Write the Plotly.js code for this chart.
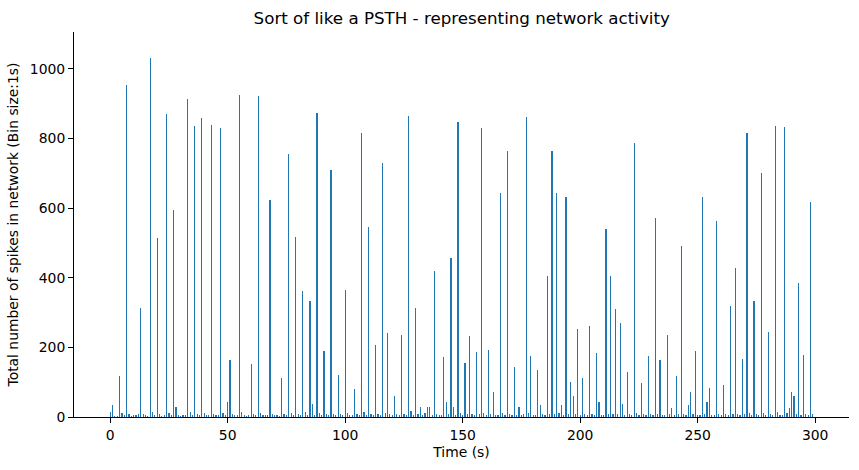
<!DOCTYPE html>
<html>
<head>
<meta charset="utf-8">
<script src="https://cdn.plot.ly/plotly-3.0.1.min.js"></script>
<style>html,body{margin:0;padding:0;background:#fff;}#chart{width:859px;height:470px;}</style>
</head>
<body>
<div id="chart"></div>
<script>
// Time bins (1 s each), 0..299
var timeBins = [];
for (var i = 0; i < 300; i++) { timeBins.push(i); }

// Total spike counts per bin
var spikeCounts = [
  15,34,4,3,118,12,5,954,8,4,
  5,6,8,314,10,6,4,1032,14,5,
  513,10,4,6,870,12,5,594,30,6,
  4,5,7,913,14,6,836,9,5,859,
  12,5,6,839,10,7,5,830,12,6,
  43,164,8,5,6,925,14,6,4,5,
  153,8,5,922,12,6,5,7,622,10,
  5,6,4,112,8,5,755,12,6,516,
  10,5,363,14,6,334,38,7,873,12,
  6,190,9,5,709,10,6,121,8,5,
  366,12,6,5,81,8,6,815,14,5,
  545,10,6,207,8,5,729,12,242,8,
  5,60,10,6,236,8,5,864,16,6,
  314,9,28,6,12,28,30,6,418,10,
  5,6,173,43,8,458,30,6,847,12,
  6,156,8,233,10,5,187,9,830,12,
  6,193,8,72,6,5,643,12,6,764,
  10,6,144,5,28,6,8,862,12,176,
  6,5,135,35,8,6,406,10,764,8,
  643,12,35,6,631,10,101,60,8,254,
  6,112,8,5,262,10,6,184,43,7,
  5,539,8,406,10,311,9,271,38,6,
  130,8,5,787,12,6,98,8,6,176,
  10,5,571,8,164,6,5,236,10,27,
  6,118,8,490,10,6,35,72,8,190,
  6,5,631,10,43,84,6,5,562,10,
  6,92,8,5,320,10,429,8,5,167,
  9,815,12,6,334,10,5,700,12,6,
  245,8,5,836,14,6,5,833,12,27,
  72,60,8,386,6,179,8,5,617,10
];

var xTickVals = [0, 50, 100, 150, 200, 250, 300];
var yTickVals = [0, 200, 400, 600, 800, 1000];

var trace = {
  type: 'bar',
  x: timeBins,
  y: spikeCounts,
  width: 0.5,
  marker: { color: '#1f77b4', line: { width: 0 } },
  hoverinfo: 'x+y'
};

var font = { family: 'DejaVu Sans, sans-serif', size: 13.9, color: '#000' };

var layout = {
  width: 859,
  height: 470,
  margin: { l: 74, r: 10, t: 32, b: 53, pad: 0 },
  paper_bgcolor: '#fff',
  plot_bgcolor: '#fff',
  showlegend: false,
  font: font,
  title: {
    text: 'Sort of like a PSTH - representing network activity',
    font: { family: 'DejaVu Sans, sans-serif', size: 16.7, color: '#000' },
    x: 0.5375, xanchor: 'center',
    y: 0.962, yanchor: 'middle'
  },
  xaxis: {
    range: [-15.4, 314.4],
    tickvals: xTickVals,
    ticktext: xTickVals.map(String),
    ticks: 'outside', ticklen: 5, tickwidth: 1, tickcolor: '#000',
    showline: true, linecolor: '#000', linewidth: 1,
    showgrid: false, zeroline: false,
    tickfont: font,
    title: { text: 'Time (s)', font: font, standoff: 5 }
  },
  yaxis: {
    range: [0, 1106],
    tickvals: yTickVals,
    ticktext: yTickVals.map(String),
    ticks: 'outside', ticklen: 5, tickwidth: 1, tickcolor: '#000',
    showline: true, linecolor: '#000', linewidth: 1,
    showgrid: false, zeroline: false,
    tickfont: font,
    title: { text: 'Total number of spikes in network (Bin size:1s)', font: font, standoff: 7 }
  },
  bargap: 0
};

Plotly.newPlot('chart', [trace], layout, { displayModeBar: false, staticPlot: true });
</script>
</body>
</html>
